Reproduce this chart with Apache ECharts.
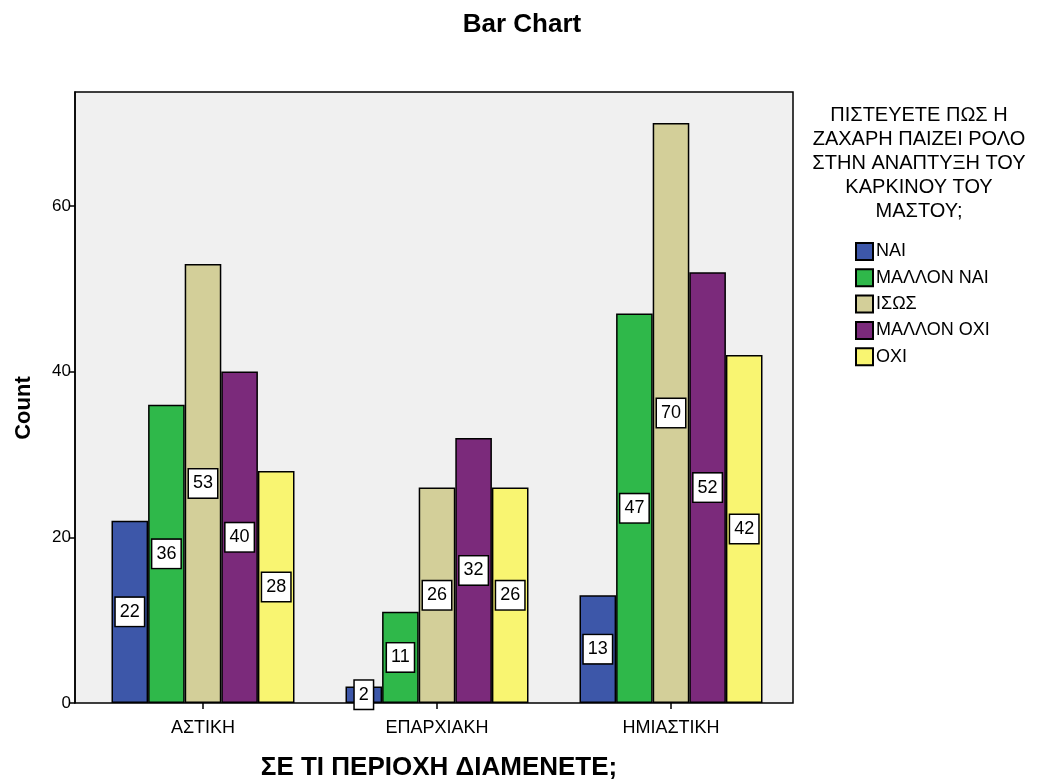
<!DOCTYPE html>
<html>
<head>
<meta charset="utf-8">
<title>Bar Chart</title>
<script src="https://cdn.jsdelivr.net/npm/echarts@6/dist/echarts.min.js"></script>
<style>
  html, body { margin: 0; padding: 0; background: #ffffff; }
  #chart { width: 1046px; height: 780px; }
</style>
</head>
<body>
<div id="chart"></div>
<script>
// Place of residence (x categories)
const categories = ['ΑΣΤΙΚΗ', 'ΕΠΑΡΧΙΑΚΗ', 'ΗΜΙΑΣΤΙΚΗ'];

// Answer groups (legend) and their counts per category
const answers = ['ΝΑΙ', 'ΜΑΛΛΟΝ ΝΑΙ', 'ΙΣΩΣ', 'ΜΑΛΛΟΝ ΟΧΙ', 'ΟΧΙ'];
const countsNai        = [22, 2, 13];
const countsMallonNai  = [36, 11, 47];
const countsIsos       = [53, 26, 70];
const countsMallonOxi  = [40, 32, 52];
const countsOxi        = [28, 26, 42];

const yTicks = [0, 20, 40, 60];

const legendTitle = ['ΠΙΣΤΕΥΕΤΕ ΠΩΣ Η', 'ΖΑΧΑΡΗ ΠΑΙΖΕΙ ΡΟΛΟ', 'ΣΤΗΝ ΑΝΑΠΤΥΞΗ ΤΟΥ', 'ΚΑΡΚΙΝΟΥ ΤΟΥ', 'ΜΑΣΤΟΥ;'];

const seriesValues = [countsNai, countsMallonNai, countsIsos, countsMallonOxi, countsOxi];
const colors = ['#3d57a9', '#2fb84a', '#d3cf99', '#7b2a7b', '#f9f571'];

const FONT = '"Liberation Sans", Arial, sans-serif';

const chart = echarts.init(document.getElementById('chart'), null, { renderer: 'canvas' });

const series = answers.map((name, i) => ({
  name: name,
  type: 'bar',
  xAxisIndex: 1,
  yAxisIndex: 1,
  data: seriesValues[i],
  barWidth: 36.6,
  barGap: '0%',
  itemStyle: { color: colors[i], borderColor: '#000000', borderWidth: 1.5 },
  label: {
    show: true,
    position: 'inside',
    formatter: '{c}',
    color: '#000000',
    fontFamily: FONT,
    fontSize: 18,
    lineHeight: 18,
    backgroundColor: '#ffffff',
    borderColor: '#000000',
    borderWidth: 1.5,
    padding: [6, 4, 4, 4]
  },
  emphasis: { disabled: true },
  animation: false
}));

const option = {
  animation: false,
  backgroundColor: '#ffffff',
  title: {
    text: 'Bar Chart',
    left: 517,
    top: 7,
    textAlign: 'center',
    textStyle: { fontFamily: FONT, fontSize: 26, fontWeight: 'bold', color: '#000000' }
  },
  grid: [
    // plot frame
    { left: 75, top: 92, width: 718, height: 611, show: true, backgroundColor: '#f0f0f0', borderColor: '#000000', borderWidth: 1.5, z: 0 },
    // data area
    { left: 86, top: 92, width: 702, height: 611 }
  ],
  xAxis: [
    { gridIndex: 0, type: 'value', show: false, min: 0, max: 1 },
    {
      gridIndex: 1,
      type: 'category',
      data: categories,
      boundaryGap: true,
      axisLine: { show: false },
      axisTick: { show: true, alignWithLabel: true, length: 6, lineStyle: { color: '#000000', width: 1.5 } },
      axisLabel: { color: '#000000', fontFamily: FONT, fontSize: 18, margin: 16 }
    }
  ],
  yAxis: [
    { gridIndex: 0, type: 'value', show: false, min: 0, max: 1 },
    {
      gridIndex: 1,
      type: 'value',
      min: 0,
      max: 73.75,
      offset: 11,
      axisLine: { show: true, lineStyle: { color: '#000000', width: 1.5 } },
      axisTick: { show: true, length: 6, customValues: yTicks, lineStyle: { color: '#000000', width: 1.5 } },
      axisLabel: {
        color: '#000000', fontFamily: FONT, fontSize: 17, margin: 4,
        customValues: yTicks
      },
      splitLine: { show: false }
    }
  ],
  legend: {
    data: answers,
    orient: 'vertical',
    left: 850,
    top: 237,
    itemWidth: 17,
    itemHeight: 17,
    itemGap: 7.3,
    icon: 'rect',
    selectedMode: false,
    textStyle: { fontFamily: FONT, fontSize: 18, color: '#000000', padding: [0, 0, 0, -2] }
  },
  graphic: [
    {
      type: 'text',
      x: 919,
      y: 104,
      style: {
        text: legendTitle.join('\n'),
        align: 'center',
        verticalAlign: 'top',
        font: '20px ' + FONT,
        lineHeight: 23.8,
        fill: '#000000'
      }
    },
    {
      type: 'text',
      rotation: Math.PI / 2,
      x: 24,
      y: 408,
      style: {
        text: 'Count',
        align: 'center',
        verticalAlign: 'middle',
        font: 'bold 22px ' + FONT,
        fill: '#000000'
      }
    },
    {
      type: 'text',
      x: 439,
      y: 768,
      style: {
        text: 'ΣΕ ΤΙ ΠΕΡΙΟΧΗ ΔΙΑΜΕΝΕΤΕ;',
        align: 'center',
        verticalAlign: 'middle',
        font: 'bold 26px ' + FONT,
        fill: '#000000'
      }
    }
  ],
  series: series
};

chart.setOption(option);
</script>
</body>
</html>
